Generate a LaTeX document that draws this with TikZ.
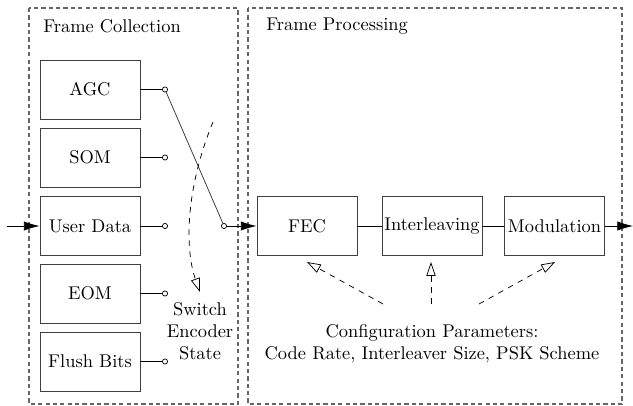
\documentclass[tikz,border=0pt]{standalone}
\usepackage{tikz}
\usetikzlibrary{positioning}
\usetikzlibrary{arrows.meta}

\tikzset{
  block/.style={draw=black!75, line width=0.5pt, minimum width=54.3pt, minimum height=32pt, inner sep=0pt},
  contact/.style={circle, draw, fill=white, inner sep=0pt, minimum size=2.8pt},
  frame/.style={draw=black!60, dash pattern=on 2.3pt off 1.7pt, line width=0.7pt},
  flow/.style={-{Latex[length=8.5pt,width=5pt]}},
  hint/.style={dashed, -{Triangle[open,length=7.5pt,width=5pt]}}
}

\begin{document}
\begin{tikzpicture}[x=0.543pt,y=-0.543pt]
\useasboundingbox (0,0) rectangle (633,406);

% frames
{
\draw[frame] (29,8) rectangle (238,404);
\draw[frame] (248,8) rectangle (622,404);

\node[anchor=west, inner sep=0pt] (tcoll) at (43,26) {Frame Collection};
\node[anchor=west, inner sep=0pt] (tproc) at (266,26) {Frame Processing};
}

% collection
{
\node[block] (agc) at (90,89.5) {AGC};
\node[block] (som) at (90,157.5) {SOM};
\node[block] (user) at (90,226) {User Data};
\node[block] (eom) at (90,293.5) {EOM};
\node[block] (flush) at (90,361.5) {Flush Bits};

\node[contact] (cagc) at (165,89.5) {};
\node[contact] (csom) at (165,157.5) {};
\node[contact] (cuser) at (165,226) {};
\node[contact] (ceom) at (165,293.5) {};
\node[contact] (cflush) at (165,361.5) {};
\node[contact] (cout) at (224,226) {};

\foreach \b/\c in {agc/cagc, som/csom, user/cuser, eom/ceom, flush/cflush}
  \draw (\b) -- (\c);

\draw[black!80] (cagc) -- (cout);

\coordinate (in) at (7,226);
\draw[flow] (in) -- (user);

% switching hint
\coordinate (sw1) at (213,122);
\coordinate (sw2) at (200,292);
\draw[hint] (sw1) .. controls (185,190) and (185,250) .. (sw2);

\node[align=center, inner sep=0pt] (swtxt) at (200,331) {Switch\\Encoder\\State};
}

% processing
{
\node[block] (fec) at (307,226) {FEC};
\node[block] (intl) at (432,226) {Interleaving};
\node[block] (mod) at (554.5,226) {Modulation};

\draw[flow] (cout) -- (fec);
\draw (fec) -- (intl);
\draw (intl) -- (mod);

\coordinate (out) at (633,226);
\draw[flow] (mod) -- (out);

\node[align=center, inner sep=0pt] (cfg) at (432,344)
{Configuration Parameters:\\Code Rate, Interleaver Size, PSK Scheme};

\coordinate (p1) at (383,304);
\coordinate (p2) at (431,304);
\coordinate (p3) at (479,304);
\coordinate (q1) at (307,262);
\coordinate (q2) at (431,262);
\coordinate (q3) at (555,262);

\foreach \i in {1,2,3}
  \draw[hint] (p\i) -- (q\i);
}

\end{tikzpicture}
\end{document}
